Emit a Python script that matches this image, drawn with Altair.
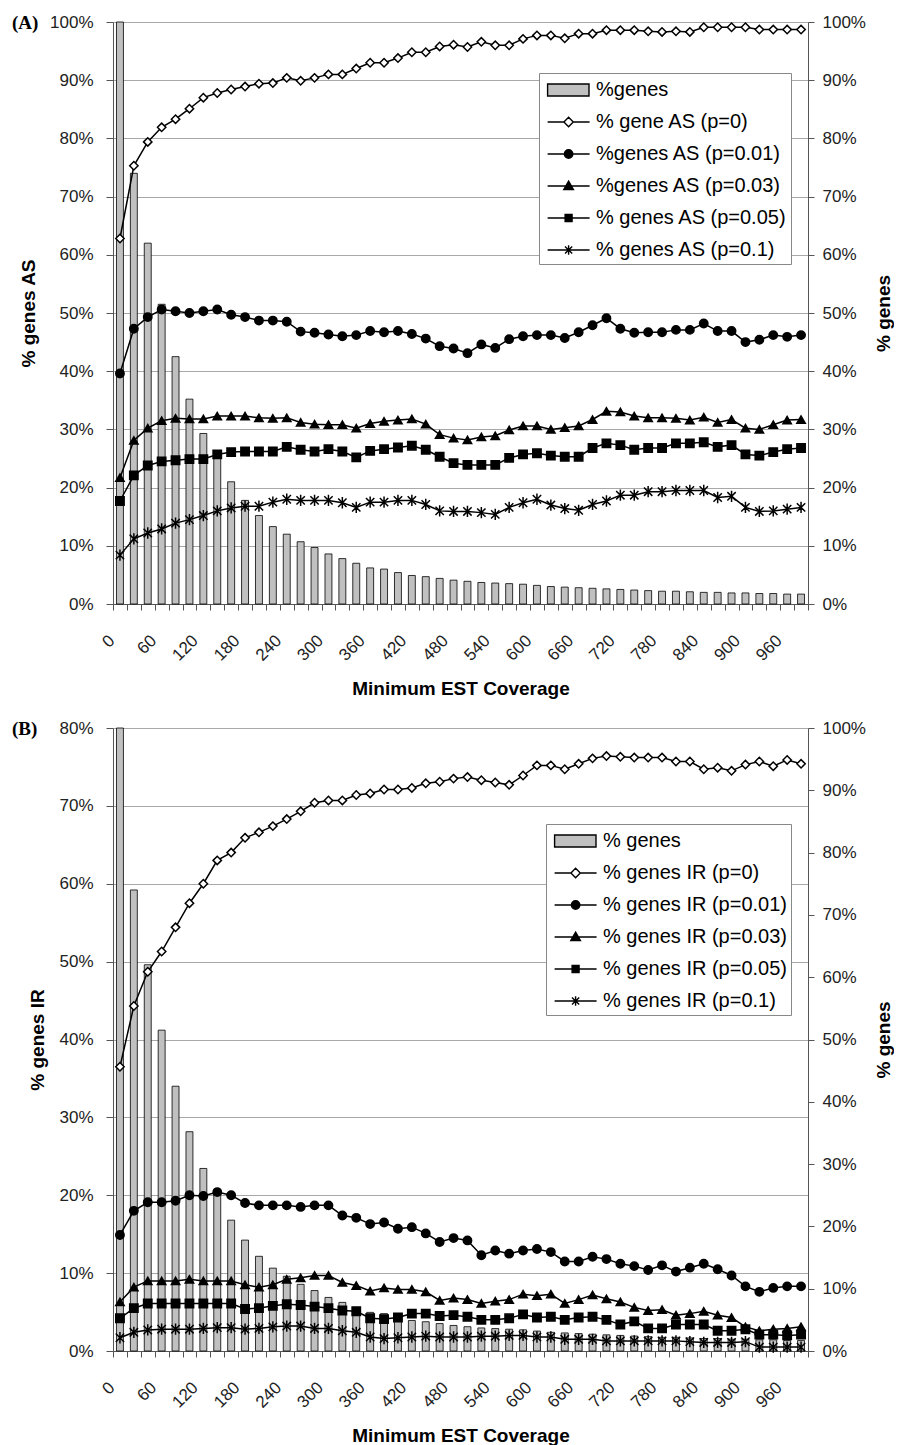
import altair as alt
import pandas as pd

# ---------------- data ----------------
coverage = list(range(0, 1000, 20))  # 50 categories

pct_genes = [100, 74, 62, 51.5, 42.5, 35.2, 29.3, 26, 21, 17.8,
             15.2, 13.3, 12, 10.7, 9.7, 8.6, 7.8, 7, 6.2, 6,
             5.4, 4.9, 4.7, 4.4, 4.1, 3.9, 3.7, 3.6, 3.5, 3.4,
             3.2, 3.0, 2.9, 2.8, 2.7, 2.6, 2.5, 2.4, 2.3, 2.2,
             2.2, 2.1, 2.0, 2.0, 1.9, 1.9, 1.8, 1.8, 1.7, 1.7]

as_p0 = [62.8, 75.3, 79.4, 81.9, 83.3, 85.1, 87.0, 87.8, 88.4, 88.9,
         89.4, 89.5, 90.4, 89.9, 90.4, 91.0, 91.0, 92.0, 93.0, 93.0,
         93.8, 94.8, 94.8, 95.8, 96.1, 95.7, 96.6, 96.0, 96.0, 97.1,
         97.7, 97.7, 97.2, 98.0, 98.0, 98.6, 98.6, 98.6, 98.4, 98.3,
         98.4, 98.3, 99.1, 99.1, 99.1, 99.1, 98.7, 98.7, 98.7, 98.7]
as_p01 = [39.6, 47.3, 49.3, 50.6, 50.3, 50.0, 50.3, 50.6, 49.7, 49.3,
          48.7, 48.7, 48.5, 46.8, 46.6, 46.3, 46.0, 46.2, 46.9, 46.7,
          46.9, 46.4, 45.6, 44.3, 43.9, 43.1, 44.6, 44.0, 45.5, 46.0,
          46.2, 46.2, 45.7, 46.7, 47.9, 49.1, 47.3, 46.6, 46.7, 46.7,
          47.1, 47.1, 48.2, 46.9, 46.9, 45.0, 45.4, 46.2, 45.9, 46.2]
as_p03 = [21.7, 28.1, 30.2, 31.5, 31.9, 31.8, 31.8, 32.3, 32.3, 32.3,
          32.0, 31.9, 32.0, 31.2, 30.9, 30.8, 30.8, 30.2, 31.0, 31.4,
          31.6, 31.8, 30.9, 29.1, 28.5, 28.2, 28.7, 28.9, 29.9, 30.6,
          30.6, 30.0, 30.3, 30.6, 31.7, 33.1, 33.0, 32.3, 32.0, 32.0,
          31.9, 31.6, 32.1, 31.2, 31.7, 30.2, 30.0, 30.8, 31.6, 31.7]
as_p05 = [17.7, 22.1, 23.8, 24.5, 24.7, 24.9, 24.9, 25.7, 26.1, 26.2,
          26.2, 26.2, 27.0, 26.5, 26.2, 26.6, 26.2, 25.2, 26.3, 26.6,
          26.9, 27.2, 26.5, 25.3, 24.2, 23.9, 23.9, 23.9, 25.1, 25.7,
          25.9, 25.5, 25.3, 25.3, 26.8, 27.6, 27.3, 26.5, 26.8, 26.8,
          27.6, 27.6, 27.8, 27.0, 27.3, 25.7, 25.5, 26.1, 26.6, 26.8]
as_p1 = [8.4, 11.2, 12.2, 12.9, 13.9, 14.5, 15.2, 16.0, 16.5, 16.8,
         16.8, 17.5, 18.0, 17.8, 17.8, 17.8, 17.4, 16.6, 17.5, 17.5,
         17.8, 17.8, 17.1, 16.0, 15.9, 15.9, 15.7, 15.4, 16.6, 17.4,
         18.0, 17.0, 16.4, 16.1, 17.1, 17.7, 18.7, 18.7, 19.3, 19.3,
         19.5, 19.5, 19.5, 18.3, 18.5, 16.6, 15.9, 16.0, 16.3, 16.6]

ir_p0 = [36.5, 44.3, 48.7, 51.3, 54.4, 57.5, 60.0, 63.0, 64.0, 65.9,
         66.6, 67.4, 68.3, 69.3, 70.4, 70.7, 70.7, 71.4, 71.6, 72.1,
         72.1, 72.3, 72.9, 73.1, 73.5, 73.7, 73.3, 73.0, 72.7, 73.9,
         75.2, 75.2, 74.7, 75.4, 76.1, 76.4, 76.3, 76.2, 76.2, 76.2,
         75.7, 75.7, 74.7, 74.9, 74.5, 75.3, 75.7, 75.1, 75.9, 75.4]
ir_p01 = [14.9, 18.0, 19.1, 19.1, 19.3, 20.0, 19.9, 20.4, 20.0, 19.0,
          18.7, 18.7, 18.7, 18.5, 18.7, 18.7, 17.4, 17.1, 16.3, 16.5,
          15.7, 15.9, 15.1, 14.0, 14.5, 14.2, 12.3, 12.9, 12.5, 12.9,
          13.1, 12.7, 11.5, 11.5, 12.1, 11.8, 11.2, 10.9, 10.4, 11.0,
          10.2, 10.7, 11.2, 10.5, 9.7, 8.3, 7.6, 8.1, 8.3, 8.3]
ir_p03 = [6.3, 8.2, 9.0, 9.0, 9.0, 9.2, 9.0, 9.0, 9.0, 8.5,
          8.2, 8.5, 9.2, 9.4, 9.7, 9.7, 8.8, 8.4, 7.7, 8.1,
          7.9, 7.9, 7.6, 6.5, 6.8, 6.6, 6.1, 6.4, 6.6, 7.3,
          7.1, 7.3, 6.1, 6.6, 7.2, 6.7, 6.3, 5.6, 5.2, 5.3,
          4.6, 4.8, 5.1, 4.6, 4.3, 3.1, 2.6, 2.8, 2.9, 3.1]
ir_p05 = [4.2, 5.5, 6.1, 6.1, 6.1, 6.1, 6.1, 6.1, 6.1, 5.4,
          5.5, 5.8, 6.0, 5.9, 5.7, 5.5, 5.2, 5.1, 4.2, 4.1,
          4.3, 4.8, 4.8, 4.5, 4.6, 4.4, 4.0, 4.0, 4.2, 4.7,
          4.3, 4.4, 4.0, 4.3, 4.4, 4.0, 3.4, 3.8, 2.9, 2.9,
          3.4, 3.4, 3.4, 2.6, 2.6, 2.8, 2.1, 2.1, 2.0, 2.1]
ir_p1 = [1.7, 2.4, 2.7, 2.8, 2.8, 2.8, 2.9, 3.0, 3.0, 2.8,
         2.9, 3.1, 3.2, 3.2, 2.9, 2.9, 2.6, 2.4, 1.8, 1.6,
         1.7, 1.8, 1.9, 1.8, 1.8, 1.8, 1.9, 1.9, 2.0, 2.0,
         1.8, 1.8, 1.5, 1.5, 1.5, 1.3, 1.3, 1.3, 1.3, 1.3,
         1.3, 1.2, 1.1, 1.1, 1.1, 1.2, 0.5, 0.5, 0.5, 0.5]

names_A = ["%genes", "% gene AS (p=0)", "%genes AS (p=0.01)", "%genes AS (p=0.03)",
           "% genes AS (p=0.05)", "% genes AS (p=0.1)"]
names_B = ["% genes", "% genes IR (p=0)", "% genes IR (p=0.01)", "% genes IR (p=0.03)",
           "% genes IR (p=0.05)", "% genes IR (p=0.1)"]

# ---------------- styling ----------------
FONT = "Liberation Sans"
ASTER = "M-1,-1L1,1M-1,1L1,-1M0,-1.35L0,1.35"
marker_shapes = ["diamond", "circle", "triangle-up", "square", ASTER]
marker_fills = ["white", "black", "black", "black", "black"]

# legend symbols: unit = 12 px (symbolSize 576); line segment from -0.7 to 2.8, marker at 1.05
legend_paths = [
    "M-0.7,-0.5H2.75V0.5H-0.7Z",
    "M-0.7,0H0.66M1.44,0H2.8M1.05,-0.39L1.44,0L1.05,0.39L0.66,0Z",
    "M-0.7,0H2.8M1.4,0A0.35,0.35,0,1,1,0.7,0A0.35,0.35,0,1,1,1.4,0Z",
    "M-0.7,0H2.8M1.05,-0.4L1.45,0.3L0.65,0.3Z",
    "M-0.7,0H2.8M0.76,-0.29H1.34V0.29H0.76Z",
    "M-0.7,0H2.8M0.75,-0.3L1.35,0.3M0.75,0.3L1.35,-0.3M1.05,-0.4V0.4",
]
legend_fills = ["#c0c0c0", "white", "black", "black", "black", "black"]
legend_strokes = ["black"] * 6


def panel(tag, names, series_vals, left_max, left_title, leg_x, leg_y, height):
    bars_df = pd.DataFrame({"coverage": coverage, "pct": pct_genes})
    rows = []
    for name, vals in zip(names[1:], series_vals):
        for c, v in zip(coverage, vals):
            rows.append({"coverage": c, "series": name, "value": v})
    lines_df = pd.DataFrame(rows)

    x_enc = alt.X(
        "coverage:O",
        scale=alt.Scale(paddingInner=0, paddingOuter=0),
        axis=alt.Axis(
            title="Minimum EST Coverage",
            labelAngle=315,
            labelExpr="datum.value % 60 == 0 ? datum.label : ''",
            labelOverlap=False,
            tickBand="extent",
            tickSize=6,
            labelPadding=22,
            labelOffset=-14,
            labelFontSize=17,
            titlePadding=16,
            grid=False,
        ),
    )
    y_left = alt.Y(
        "value:Q",
        scale=alt.Scale(domain=[0, left_max], nice=False, zero=True),
        axis=alt.Axis(
            orient="left",
            title=left_title,
            values=list(range(0, left_max + 1, 10)),
            labelExpr="datum.value + '%'",
            grid=True,
            tickSize=7,
            labelPadding=13,
            titlePadding=11,
        ),
    )
    y_right = alt.Y(
        "pct:Q",
        scale=alt.Scale(domain=[0, 100], nice=False, zero=True),
        axis=alt.Axis(
            orient="right",
            title="% genes",
            titleAngle=270,
            values=list(range(0, 101, 10)),
            labelExpr="datum.value + '%'",
            grid=False,
            tickSize=6,
            labelPadding=8,
            titlePadding=28,
        ),
    )

    bars = alt.Chart(bars_df).mark_bar(
        width={"band": 0.5}, fill="#c0c0c0", stroke="black", strokeWidth=0.8
    ).encode(x=x_enc, y=y_right)

    lines = alt.Chart(lines_df).mark_line(color="black", strokeWidth=1.5).encode(
        x=x_enc, y=y_left, detail="series:N"
    )

    markers = alt.Chart(lines_df).mark_point(
        filled=True, stroke="black", strokeWidth=1.5, opacity=1, size=70
    ).encode(
        x=x_enc,
        y=y_left,
        shape=alt.Shape("series:N", scale=alt.Scale(domain=names[1:], range=marker_shapes), legend=None),
        fill=alt.Fill("series:N", scale=alt.Scale(domain=names[1:], range=marker_fills), legend=None),
    )

    leg = alt.Legend(
        title=None,
        orient="none",
        legendX=leg_x,
        legendY=leg_y,
        symbolSize=576,
        symbolStrokeWidth=1.4,
        symbolOpacity=1,
        labelFont=FONT,
        labelFontSize=20,
        labelColor="black",
        labelOffset=27,
        rowPadding=9,
        padding=4,
        strokeColor="#888888",
        fillColor="white",
        labelLimit=400,
    )
    legend_layer = alt.Chart(lines_df).mark_point(
        filled=True, opacity=0
    ).encode(
        x=x_enc,
        y=y_left,
        shape=alt.Shape("series:N", scale=alt.Scale(domain=names, range=legend_paths), legend=leg),
        fill=alt.Fill("series:N", scale=alt.Scale(domain=names, range=legend_fills), legend=leg),
        stroke=alt.Stroke("series:N", scale=alt.Scale(domain=names, range=legend_strokes), legend=leg),
    )

    tag_text = alt.Chart(pd.DataFrame({"t": [tag]})).mark_text(
        font="Liberation Serif", fontWeight="bold", fontSize=19, align="left", baseline="middle"
    ).encode(x=alt.value(-101), y=alt.value(1), text="t:N")

    inner = alt.layer(lines, markers, legend_layer, tag_text).resolve_scale(
        shape="independent", fill="independent", stroke="independent"
    )
    return alt.layer(bars, inner).resolve_scale(y="independent").properties(
        width=695, height=height
    )


panel_a = panel("(A)", names_A, [as_p0, as_p01, as_p03, as_p05, as_p1], 100,
                "% genes AS", 426, 51, 582)
panel_b = panel("(B)", names_B, [ir_p0, ir_p01, ir_p03, ir_p05, ir_p1], 80,
                "% genes IR", 433, 96, 623)

chart = alt.vconcat(panel_a, panel_b, spacing=20).properties(
    padding={"left": 4, "top": 5, "right": 0, "bottom": 0},
    background="white",
).configure_view(stroke=None).configure_axis(
    labelFont=FONT,
    labelFontSize=17,
    labelColor="#222222",
    titleFont=FONT,
    titleFontSize=19,
    titleFontWeight="bold",
    titleColor="black",
    domainColor="#555555",
    tickColor="#555555",
    gridColor="#a8a8a8",
    gridWidth=1,
)

chart.save("out.html", embed_options={"renderer": "svg", "actions": False})
